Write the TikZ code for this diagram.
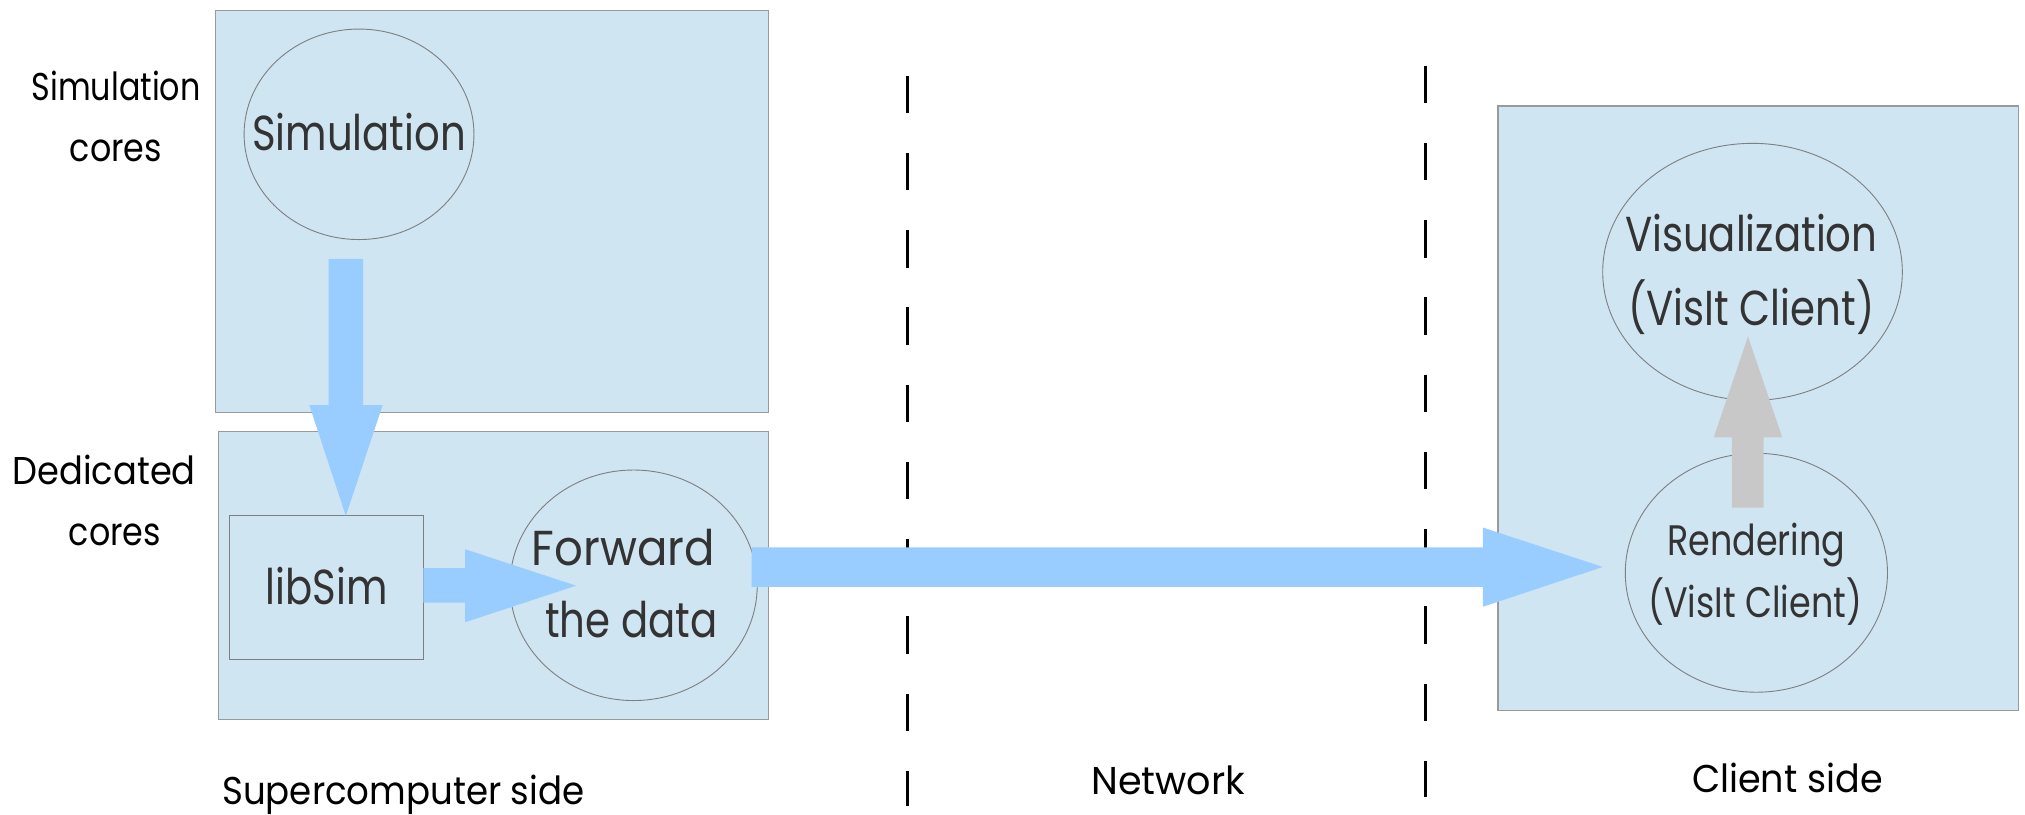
\documentclass[tikz,border=0pt]{standalone}
\usepackage{fontspec}
\setmainfont{Poppins}[FakeStretch=0.82]
\usetikzlibrary{shapes.geometric}
\definecolor{boxfill}{HTML}{CFE5F2}
\definecolor{boxline}{HTML}{9A9A9A}
\definecolor{ellline}{HTML}{7F7F7F}
\definecolor{flowblue}{HTML}{99CCFF}
\definecolor{flowgray}{HTML}{C8C8C8}
\definecolor{txtgray}{HTML}{333333}
\begin{document}
\begin{tikzpicture}[x=1pt,y=-1pt,
  panel/.style={draw=boxline,fill=boxfill,line width=1pt},
  bubble/.style={ellipse,draw=ellline,fill=boxfill,line width=0.7pt,inner sep=0pt},
  bigtxt/.style={anchor=base,inner sep=0pt,text=txtgray,font=\fontsize{38}{46}\selectfont},
  midtxt/.style={anchor=base,inner sep=0pt,text=txtgray,font=\fontsize{33}{40}\selectfont},
  sidetxt/.style={anchor=base,inner sep=0pt,text=black,font=\fontsize{30}{36}\selectfont},
  divider/.style={black,line width=2.5pt,dash pattern=on 29pt off 30.8pt},
  blueflow/.style={fill=flowblue,draw=none},
  grayflow/.style={fill=flowgray,draw=none}]
\useasboundingbox (0,0) rectangle (1568,631);

% panels
\draw[panel] (167,8) rectangle (595,319.5);
\draw[panel] (169,334) rectangle (595,557);
\draw[panel] (1160,82) rectangle (1563,550);

% dividers
\coordinate (d1a) at (702.5,58.6);
\coordinate (d1b) at (702.5,624);
\coordinate (d2a) at (1104,50.9);
\coordinate (d2b) at (1104,617);
\draw[divider] (d1a) -- (d1b);
\draw[divider] (d2a) -- (d2b);

% nodes
\node[bubble,minimum width=178pt,minimum height=163pt] (sim) at (278,104) {};
\node[draw=ellline,fill=boxfill,line width=0.7pt,minimum width=149.5pt,minimum height=111.5pt,inner sep=0pt] (lib) at (252.75,455.25) {};
\node[bubble,minimum width=191.5pt,minimum height=178.5pt] (fwd) at (490.6,453.2) {};
\node[bubble,minimum width=232pt,minimum height=199pt] (vis) at (1357,210.5) {};
\node[bubble,minimum width=203pt,minimum height=185pt] (ren) at (1360,443.5) {};

% flow arrows
\fill[blueflow] (254.4,200.5) -- (281.2,200.5) -- (281.2,313.6) -- (296.3,313.6)
  -- (267.8,399.5) -- (239.5,313.6) -- (254.4,313.6) -- cycle;
\fill[blueflow] (lib.east |- 0,440) -- (360.2,440) -- (360.2,425.3) -- (446,453.5)
  -- (360.2,481.8) -- (360.2,466.7) -- (lib.east |- 0,466.7) -- cycle;
\fill[blueflow] (582,423.9) -- (1148.3,423.9) -- (1148.3,408.5) -- (1241,439)
  -- (1148.3,469.8) -- (1148.3,454.5) -- (582,454.5) -- cycle;
\fill[grayflow] (1341,393) -- (1341,338.6) -- (1327,338.6) -- (1353.5,260.5)
  -- (1380,338.6) -- (1365.5,338.6) -- (1365.5,393) -- cycle;

% texts
\node[bigtxt] (simt) at (278,116.2) {Simulation};
\node[bigtxt] (libt) at (253,467.7) {libSim};
\node[bigtxt] (fwdt1) at (482.7,437.5) {\scalebox{1.12}[1]{Forward}};
\node[bigtxt] (fwdt2) at (489,493.5) {the data};
\node[bigtxt] (vist1) at (1356,194.7) {Visualization};
\node[bigtxt] (vist2) at (1356,251.7) {(VisIt Client)};
\node[midtxt] (rent1) at (1360,430.3) {Rendering};
\node[midtxt] (rent2) at (1359,477.8) {(VisIt Client)};

\node[sidetxt] (l1) at (90,77.7) {Simulation};
\node[sidetxt] (l2) at (89.7,125) {\scalebox{1.05}[1]{cores}};
\node[sidetxt] (l3) at (80.7,375.5) {\scalebox{1.11}[1]{Dedicated}};
\node[sidetxt] (l4) at (89,422.5) {\scalebox{1.05}[1]{cores}};
\node[sidetxt] (l5) at (312.3,623) {\scalebox{1.12}[1]{Supercomputer side}};
\node[sidetxt] (l6) at (904.6,615.5) {\scalebox{1.2}[1]{Network}};
\node[sidetxt] (l7) at (1384,613.8) {\scalebox{1.15}[1]{Client side}};
\end{tikzpicture}
\end{document}
